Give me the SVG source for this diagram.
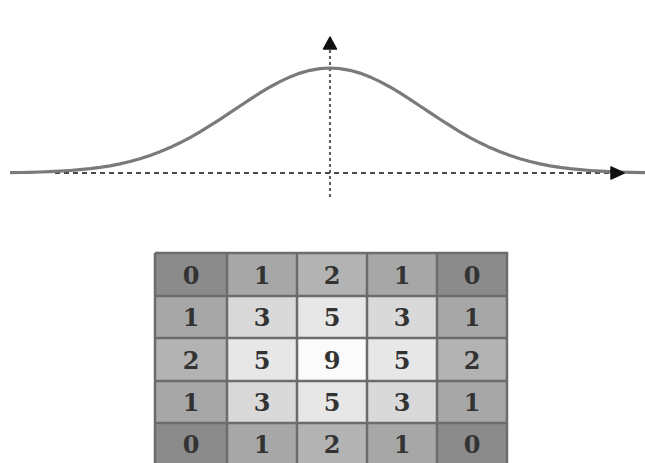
<svg xmlns="http://www.w3.org/2000/svg" width="645" height="463" viewBox="0 0 645 463">
<style>
.axis{stroke:#4a4a4a;stroke-width:1.8;fill:none}
.dash{stroke-dasharray:5 4}
.dot{stroke-dasharray:3 3}
.curve{stroke:#7a7a7a;stroke-width:3.2;fill:none}
.grid{stroke:#6c6c6c;stroke-width:2.5;fill:none}
.v0{fill:#8b8b8b}.v1{fill:#a7a7a7}.v2{fill:#b3b3b3}.v3{fill:#d9d9d9}.v5{fill:#e7e7e7}.v9{fill:#fbfbfb}
text{font-family:"DejaVu Serif","Liberation Serif",serif;font-weight:bold;font-size:24px;fill:#333;text-anchor:middle;dominant-baseline:central}
</style>
<rect width="645" height="463" fill="#fff"/>
<g id="plot">
<line class="axis dash" x1="55" y1="173" x2="612" y2="173"/>
<line class="axis dot" x1="330" y1="50" x2="330" y2="198"/>
<path class="curve" d="M10,172.65 L20,172.49 30,172.28 40,172.01 50,171.64 60,171.15 70,170.52 80,169.71 90,168.68 100,167.4 110,165.81 120,163.88 130,161.55 140,158.79 150,155.56 160,151.82 170,147.58 180,142.81 190,137.55 200,131.83 210,125.71 220,119.29 230,112.66 240,105.96 250,99.34 260,92.96 270,86.99 280,81.58 290,76.91 300,73.11 310,70.3 320,68.58 330,68 340,68.58 350,70.3 360,73.11 370,76.91 380,81.58 390,86.99 400,92.96 410,99.34 420,105.96 430,112.66 440,119.29 450,125.71 460,131.83 470,137.55 480,142.81 490,147.58 500,151.82 510,155.56 520,158.79 530,161.55 540,163.88 550,165.81 560,167.4 570,168.68 580,169.71 590,170.52 600,171.15 610,171.64 620,172.01 630,172.28 645,172.6"/>
<polygon points="330,37 336.5,49 323.5,49" fill="#111" stroke="#111" stroke-width="1.5" stroke-linejoin="round"/>
<polygon points="624,173 611,167 611,179" fill="#111" stroke="#111" stroke-width="1.5" stroke-linejoin="round"/>
</g>
<g id="kernel">
<rect class="v0" x="155" y="253" width="72" height="43"/>
<rect class="v1" x="227" y="253" width="70" height="43"/>
<rect class="v2" x="297" y="253" width="70" height="43"/>
<rect class="v1" x="367" y="253" width="70" height="43"/>
<rect class="v0" x="437" y="253" width="70" height="43"/>
<rect class="v1" x="155" y="296" width="72" height="42"/>
<rect class="v3" x="227" y="296" width="70" height="42"/>
<rect class="v5" x="297" y="296" width="70" height="42"/>
<rect class="v3" x="367" y="296" width="70" height="42"/>
<rect class="v1" x="437" y="296" width="70" height="42"/>
<rect class="v2" x="155" y="338" width="72" height="43"/>
<rect class="v5" x="227" y="338" width="70" height="43"/>
<rect class="v9" x="297" y="338" width="70" height="43"/>
<rect class="v5" x="367" y="338" width="70" height="43"/>
<rect class="v2" x="437" y="338" width="70" height="43"/>
<rect class="v1" x="155" y="381" width="72" height="42"/>
<rect class="v3" x="227" y="381" width="70" height="42"/>
<rect class="v5" x="297" y="381" width="70" height="42"/>
<rect class="v3" x="367" y="381" width="70" height="42"/>
<rect class="v1" x="437" y="381" width="70" height="42"/>
<rect class="v0" x="155" y="423" width="72" height="42"/>
<rect class="v1" x="227" y="423" width="70" height="42"/>
<rect class="v2" x="297" y="423" width="70" height="42"/>
<rect class="v1" x="367" y="423" width="70" height="42"/>
<rect class="v0" x="437" y="423" width="70" height="42"/>
<path class="grid" d="M155,253 H507 V466 M155,253 V466 M227,253 V466 M297,253 V466 M367,253 V466 M437,253 V466 M155,296 H507 M155,338 H507 M155,381 H507 M155,423 H507"/>
<text x="191" y="275">0</text><text x="262" y="275">1</text><text x="332" y="275">2</text><text x="402" y="275">1</text><text x="472" y="275">0</text>
<text x="191" y="317">1</text><text x="262" y="317">3</text><text x="332" y="317">5</text><text x="402" y="317">3</text><text x="472" y="317">1</text>
<text x="191" y="360">2</text><text x="262" y="360">5</text><text x="332" y="360">9</text><text x="402" y="360">5</text><text x="472" y="360">2</text>
<text x="191" y="402">1</text><text x="262" y="402">3</text><text x="332" y="402">5</text><text x="402" y="402">3</text><text x="472" y="402">1</text>
<text x="191" y="444">0</text><text x="262" y="444">1</text><text x="332" y="444">2</text><text x="402" y="444">1</text><text x="472" y="444">0</text>
</g>
</svg>
